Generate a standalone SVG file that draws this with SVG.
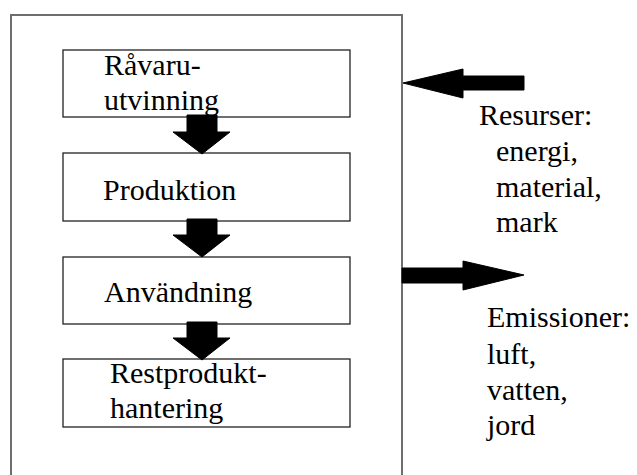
<svg xmlns="http://www.w3.org/2000/svg" width="637" height="475" viewBox="0 0 637 475">
  <style>
    .frame { fill: none; stroke: #6e6e6e; stroke-width: 2; }
    .box { fill: #ffffff; stroke: #222222; stroke-width: 1.3; }
    .arrow { fill: #000000; stroke: #000000; stroke-width: 1; stroke-linejoin: round; }
    .lbl { font-family: 'Liberation Serif', 'Times New Roman', serif; font-size: 30px; fill: #000000; }
  </style>

  <!-- system boundary -->
  <rect class="frame" x="11" y="15" width="391" height="470"/>

  <!-- life-cycle stages -->
  <g id="stage-ravaru">
    <rect class="box" x="63" y="50" width="287" height="67"/>
    <text class="lbl" x="104" y="75">Råvaru-</text>
    <text class="lbl" x="104" y="110">utvinning</text>
  </g>
  <g id="stage-produktion">
    <rect class="box" x="63" y="153" width="287" height="68"/>
    <text class="lbl" x="103" y="200">Produktion</text>
  </g>
  <g id="stage-anvandning">
    <rect class="box" x="63" y="257" width="287" height="67"/>
    <text class="lbl" x="104" y="302">Användning</text>
  </g>
  <g id="stage-restprodukt">
    <rect class="box" x="63" y="359" width="287" height="68"/>
    <text class="lbl" x="110" y="383">Restprodukt-</text>
    <text class="lbl" x="110" y="418">hantering</text>
  </g>

  <!-- inputs and outputs -->
  <g id="resurser">
    <text class="lbl" x="479" y="125">Resurser:</text>
    <text class="lbl" x="496" y="161">energi,</text>
    <text class="lbl" x="496" y="197">material,</text>
    <text class="lbl" x="496" y="232">mark</text>
  </g>
  <g id="emissioner">
    <text class="lbl" x="487" y="327">Emissioner:</text>
    <text class="lbl" x="487" y="364">luft,</text>
    <text class="lbl" x="487" y="400">vatten,</text>
    <text class="lbl" x="487" y="435">jord</text>
  </g>

  <!-- flow arrows -->
  <g id="connectors">
    <polygon class="arrow" points="187,115 217,115 217,132 230,132 202,154 173,132 187,132"/>
    <polygon class="arrow" points="187,219 217,219 217,235 230,235 202,257 173,235 187,235"/>
    <polygon class="arrow" points="187,322 217,322 217,338 230,338 202,360 173,338 187,338"/>
    <polygon class="arrow" points="524,76 524,90 463,90 463,98 403,83 463,69 463,76"/>
    <polygon class="arrow" points="402,268 463,268 463,261 524,275 463,290 463,283 402,283"/>
  </g>
</svg>
